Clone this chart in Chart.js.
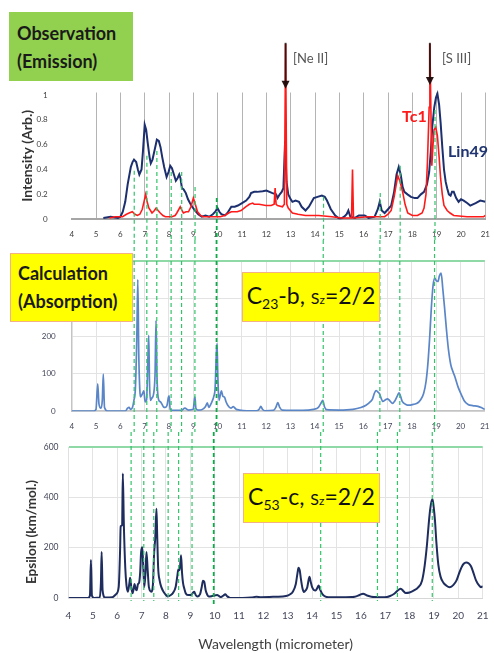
<!DOCTYPE html>
<html><head><meta charset="utf-8">
<script src="https://cdn.jsdelivr.net/npm/chart.js@4.4.0/dist/chart.umd.min.js"></script>
<style>
html,body{margin:0;padding:0;width:494px;height:653px;overflow:hidden;background:#fff;font-family:Lato,"Open Sans",sans-serif;}
canvas{position:absolute;left:0;}
#c1{top:0}
#c2{top:240px}
#c3{top:432px}
.box{position:absolute;box-sizing:border-box;color:#1a1a1a;font-weight:bold;}
.obs{left:9px;top:12px;width:124px;height:69px;background:#92d050;font-size:18px;line-height:28px;padding:7px 0 0 8px;}
.calc{left:10px;top:253px;width:123px;height:69px;background:#ffff00;border:1.5px solid #f4b183;font-size:18px;line-height:28px;padding:5px 0 0 7px;}
.mol{background:#ffff00;border:1.5px solid #f4b183;display:flex;align-items:center;justify-content:center;font-weight:normal;color:#111;white-space:nowrap;}
.mol .t{font-size:23px;line-height:26px;display:inline-block;}
.mol sub{font-size:14px;vertical-align:-5px;line-height:0;}
.mol .s{font-size:16px;}
.mol .z{font-size:12px;}
.lbl{position:absolute;white-space:nowrap;}
.ytitle{position:absolute;width:200px;text-align:center;font-weight:bold;font-size:13.5px;color:#333;transform:rotate(-90deg);line-height:16px;}
</style></head><body>
<canvas id="c1" width="500" height="240"></canvas>
<canvas id="c2" width="500" height="192"></canvas>
<canvas id="c3" width="500" height="221"></canvas>

<div class="box obs">Observation<br>(Emission)</div>
<div class="box calc">Calculation<br>(Absorption)</div>
<div class="box mol" style="left:242px;top:272px;width:138px;height:50px;"><span class="t">C<sub>23</sub>-b,&nbsp;<span class="s">S</span><span class="z">z</span>=2/2</span></div>
<div class="box mol" style="left:243px;top:473px;width:137px;height:50px;"><span class="t">C<sub>53</sub>-c,&nbsp;<span class="s">S</span><span class="z">z</span>=2/2</span></div>
<div class="lbl" style="left:293px;top:52px;font-size:13px;line-height:13px;color:#555;">[Ne II]</div>
<div class="lbl" style="left:442px;top:52px;font-size:13px;line-height:13px;color:#555;">[S III]</div>
<div class="lbl" style="left:402px;top:108px;font-size:16px;line-height:16px;color:#ff1a1a;font-weight:bold;">Tc1</div>
<div class="lbl" style="left:448px;top:143px;font-size:16px;line-height:16px;color:#1f3470;font-weight:bold;">Lin49</div>
<div class="ytitle" style="left:-69px;top:524px;">Epsilon (km/mol.)</div>

<script>
// ---------- data (wavelength [micrometer], value) ----------
const wavelengthTicks = [4,5,6,7,8,9,10,11,12,13,14,15,16,17,18,19,20,21];
const intensityTicks = [0,0.2,0.4,0.6,0.8,1];
const calcTicks = [0,100,200,300,400];
const epsilonTicks = [0,200,400,600];

const lin49 = [[5.3,0.01],[5.6,0.02],[5.9,0.01],[6.0,0.02],[6.1,0.06],[6.2,0.14],[6.3,0.28],[6.43,0.42],[6.5,0.46],[6.56,0.48],[6.65,0.46],[6.72,0.40],[6.78,0.36],[6.87,0.40],[6.93,0.55],[7.0,0.76],[7.06,0.72],[7.12,0.62],[7.2,0.50],[7.25,0.45],[7.32,0.48],[7.4,0.55],[7.5,0.64],[7.58,0.63],[7.65,0.58],[7.72,0.50],[7.8,0.42],[7.9,0.34],[7.98,0.38],[8.05,0.43],[8.12,0.41],[8.2,0.36],[8.28,0.31],[8.35,0.33],[8.42,0.36],[8.47,0.33],[8.53,0.25],[8.6,0.24],[8.69,0.21],[8.78,0.16],[8.86,0.13],[8.95,0.10],[9.07,0.07],[9.2,0.04],[9.34,0.02],[9.5,0.03],[9.65,0.02],[9.8,0.04],[9.9,0.06],[9.99,0.09],[10.07,0.06],[10.15,0.04],[10.3,0.03],[10.4,0.05],[10.56,0.10],[10.7,0.10],[10.83,0.11],[11.0,0.13],[11.17,0.15],[11.3,0.18],[11.37,0.21],[11.5,0.22],[11.62,0.22],[11.85,0.225],[12.0,0.23],[12.25,0.21],[12.4,0.20],[12.46,0.17],[12.55,0.20],[12.63,0.22],[12.7,0.25],[12.77,0.63],[12.83,0.30],[12.9,0.20],[13.0,0.16],[13.07,0.14],[13.2,0.15],[13.34,0.14],[13.45,0.10],[13.61,0.07],[13.75,0.10],[13.95,0.17],[14.1,0.18],[14.28,0.19],[14.4,0.18],[14.49,0.15],[14.65,0.08],[14.83,0.03],[15.03,0.0],[15.2,0.02],[15.3,0.04],[15.37,0.07],[15.45,0.02],[15.64,0.01],[15.8,0.03],[16.04,0.03],[16.2,0.01],[16.45,0.02],[16.58,0.08],[16.66,0.14],[16.74,0.07],[16.86,0.05],[17.0,0.08],[17.13,0.11],[17.25,0.22],[17.35,0.36],[17.44,0.42],[17.52,0.36],[17.6,0.26],[17.67,0.22],[17.8,0.20],[17.94,0.18],[18.1,0.17],[18.21,0.17],[18.35,0.20],[18.48,0.22],[18.6,0.28],[18.69,0.38],[18.76,0.55],[18.82,0.75],[18.9,0.90],[18.97,0.98],[19.03,1.01],[19.1,0.92],[19.16,0.78],[19.23,0.58],[19.3,0.40],[19.37,0.30],[19.43,0.25],[19.5,0.20],[19.57,0.19],[19.63,0.22],[19.7,0.22],[19.8,0.17],[19.9,0.14],[20.0,0.16],[20.11,0.15],[20.25,0.13],[20.38,0.11],[20.6,0.13],[20.79,0.15],[21.0,0.14]];

const tc1 = [[5.55,0.01],[5.8,0.02],[6.09,0.02],[6.25,0.04],[6.36,0.05],[6.49,0.06],[6.6,0.04],[6.7,0.03],[6.8,0.04],[6.9,0.08],[6.97,0.14],[7.04,0.20],[7.1,0.14],[7.17,0.09],[7.3,0.05],[7.4,0.07],[7.47,0.09],[7.55,0.07],[7.64,0.05],[7.75,0.03],[7.85,0.02],[8.12,0.02],[8.25,0.03],[8.32,0.05],[8.46,0.10],[8.53,0.07],[8.59,0.05],[8.7,0.06],[8.8,0.06],[8.9,0.10],[9.0,0.17],[9.08,0.12],[9.17,0.06],[9.3,0.03],[9.41,0.02],[9.88,0.02],[10.1,0.02],[10.29,0.03],[10.45,0.05],[10.56,0.06],[10.8,0.06],[10.96,0.07],[11.15,0.10],[11.3,0.12],[11.44,0.13],[11.5,0.12],[11.7,0.12],[11.98,0.11],[12.2,0.11],[12.32,0.12],[12.36,0.25],[12.4,0.12],[12.46,0.11],[12.66,0.10],[12.74,0.12],[12.79,1.41],[12.84,0.12],[12.9,0.09],[13.07,0.05],[13.3,0.04],[13.61,0.03],[14.15,0.03],[14.69,0.02],[15.1,0.01],[15.5,0.01],[15.54,0.40],[15.58,0.01],[16.18,0.02],[16.86,0.02],[17.0,0.04],[17.13,0.07],[17.25,0.18],[17.4,0.35],[17.5,0.30],[17.6,0.22],[17.7,0.12],[17.81,0.05],[18.0,0.03],[18.21,0.03],[18.4,0.05],[18.48,0.09],[18.56,0.20],[18.62,0.46],[18.69,0.90],[18.72,1.41],[18.76,0.90],[18.8,0.43],[18.85,0.60],[18.89,0.72],[18.96,0.74],[19.03,0.67],[19.1,0.50],[19.16,0.33],[19.23,0.20],[19.3,0.11],[19.43,0.07],[19.55,0.05],[19.7,0.03],[20.25,0.02],[20.93,0.02],[21.0,0.03]];

const c23b = [[4.0,0],[4.9,0],[5.0,5],[5.07,73],[5.12,20],[5.2,8],[5.26,30],[5.3,99],[5.35,10],[5.5,0],[6.2,0],[6.3,8],[6.36,10],[6.42,5],[6.5,10],[6.56,29],[6.62,60],[6.68,200],[6.72,350],[6.76,150],[6.8,60],[6.83,38],[6.9,45],[6.97,54],[7.02,25],[7.08,30],[7.14,150],[7.17,202],[7.2,80],[7.24,29],[7.3,35],[7.37,46],[7.43,100],[7.47,241],[7.51,90],[7.58,30],[7.65,25],[7.72,18],[7.78,11],[7.85,10],[7.92,15],[7.98,37],[8.01,41],[8.05,5],[8.2,2],[8.5,2],[8.66,8],[8.8,3],[9.0,5],[9.04,25],[9.07,38],[9.11,8],[9.2,3],[9.35,4],[9.5,12],[9.58,22],[9.64,10],[9.72,18],[9.77,25],[9.85,40],[9.9,60],[9.95,150],[9.98,180],[10.01,100],[10.06,29],[10.12,45],[10.16,54],[10.22,40],[10.29,37],[10.35,25],[10.42,16],[10.55,8],[10.65,12],[10.75,6],[10.9,3],[11.2,1],[11.6,1],[11.72,6],[11.78,13],[11.85,5],[11.95,1],[12.3,2],[12.4,10],[12.48,23],[12.56,10],[12.66,3],[13.5,2],[13.95,5],[14.15,10],[14.28,24],[14.33,29],[14.4,12],[14.49,4],[15.0,3],[15.57,5],[15.9,10],[16.11,16],[16.3,26],[16.38,33],[16.45,47],[16.52,55],[16.6,51],[16.66,47],[16.73,35],[16.8,26],[16.9,30],[17.0,33],[17.1,27],[17.2,21],[17.3,28],[17.4,41],[17.47,49],[17.53,40],[17.6,26],[17.75,18],[17.87,16],[18.05,18],[18.21,21],[18.35,30],[18.48,47],[18.58,79],[18.66,130],[18.73,197],[18.8,277],[18.87,335],[18.94,354],[19.0,347],[19.07,345],[19.13,360],[19.2,367],[19.27,325],[19.34,277],[19.42,217],[19.5,165],[19.6,123],[19.7,103],[19.77,91],[19.9,64],[20.04,43],[20.15,28],[20.31,18],[20.5,15],[20.72,13],[20.9,8],[21.0,5]];

const c53c = [[4.0,0],[4.8,0],[4.88,10],[4.92,151],[4.96,10],[5.05,0],[5.28,2],[5.33,60],[5.36,183],[5.4,30],[5.5,2],[5.8,3],[5.95,15],[6.06,43],[6.12,200],[6.14,285],[6.2,290],[6.23,495],[6.27,300],[6.33,120],[6.38,50],[6.44,25],[6.5,60],[6.53,81],[6.58,40],[6.63,19],[6.68,40],[6.71,56],[6.76,35],[6.8,31],[6.85,55],[6.9,62],[6.94,100],[6.98,183],[7.03,202],[7.07,120],[7.11,43],[7.16,100],[7.2,183],[7.25,110],[7.3,43],[7.4,25],[7.47,60],[7.51,170],[7.56,240],[7.61,355],[7.64,250],[7.68,120],[7.74,70],[7.81,43],[7.9,25],[8.0,12],[8.08,6],[8.2,12],[8.28,19],[8.4,45],[8.47,90],[8.51,114],[8.56,110],[8.62,170],[8.66,100],[8.7,60],[8.76,35],[8.81,19],[8.9,12],[9.02,12],[9.1,20],[9.16,25],[9.22,12],[9.29,6],[9.4,15],[9.47,45],[9.52,69],[9.57,65],[9.63,31],[9.7,12],[9.76,6],[9.9,8],[10.1,12],[10.2,6],[10.26,4],[10.36,10],[10.43,15],[10.5,8],[10.64,0],[11.5,2],[11.71,5],[11.9,3],[12.5,5],[12.93,8],[13.1,15],[13.2,24],[13.33,56],[13.4,100],[13.44,120],[13.49,110],[13.53,82],[13.6,40],[13.66,24],[13.73,30],[13.8,43],[13.86,75],[13.89,84],[13.94,65],[14.0,43],[14.07,32],[14.14,30],[14.2,38],[14.27,50],[14.32,35],[14.41,17],[14.5,8],[14.68,3],[15.2,3],[15.75,5],[15.95,12],[16.09,17],[16.25,10],[16.43,5],[16.97,3],[17.2,8],[17.37,17],[17.55,33],[17.64,37],[17.74,28],[17.84,20],[18.0,22],[18.18,30],[18.35,42],[18.51,69],[18.62,130],[18.71,209],[18.78,290],[18.84,349],[18.9,385],[18.94,393],[18.99,360],[19.04,310],[19.1,220],[19.18,132],[19.27,85],[19.38,62],[19.5,50],[19.65,43],[19.8,52],[19.92,69],[20.02,95],[20.12,120],[20.22,136],[20.32,141],[20.42,138],[20.52,126],[20.62,100],[20.73,69],[20.85,50],[20.93,43],[21.0,47]];

// green dashed reference lines (wavelength) and where they start in the observation panel (intensity)
const markerWl  = [6.57, 7.09, 7.5, 8.09, 8.52, 9.07, 9.96, 14.35, 16.68, 17.5, 18.93];
const markerTop = [0.39, 0.51, 0.55, 0.38, 0.38, 0.26, 0.17, 0.18, 0.21, 0.43, 0.88];
// emission line arrows: wavelength, tail intensity, tip intensity
const arrowWl = [12.79, 18.72];
const arrowTail = [1.42, 1.42];
const arrowTip = [1.05, 1.08];

const pts = a => a.map(p => ({x: p[0], y: p[1]}));
const FONT = 'Lato, "Open Sans", sans-serif';

const markerPlugin = {
  id: 'markers',
  afterDatasetsDraw(chart, args, opts) {
    const ctx = chart.ctx, xs = chart.scales.x, ys = chart.scales.y, ca = chart.chartArea;
    ctx.save();
    markerWl.forEach((w, i) => {
      const x = xs.getPixelForValue(w);
      let y0, y1;
      const strong = (w > 9.9 && w < 10.1);
      if (opts.mode === 'top') { y0 = ys.getPixelForValue(markerTop[i]); y1 = chart.height; }
      else if (opts.mode === 'mid') { y0 = 0; y1 = chart.height; }
      else { y0 = 0; y1 = ca.bottom + (strong ? 8 : 3); }
      ctx.strokeStyle = strong ? '#10a84a' : '#33c46a';
      ctx.lineWidth = strong ? 1.8 : 1.2;
      ctx.setLineDash([4, 3]);
      ctx.beginPath(); ctx.moveTo(x, y0); ctx.lineTo(x, y1); ctx.stroke();
    });
    ctx.restore();
  }
};

const arrowPlugin = {
  id: 'arrows',
  afterDatasetsDraw(chart, args, opts) {
    if (!opts.on) return;
    const ctx = chart.ctx, xs = chart.scales.x, ys = chart.scales.y;
    ctx.save();
    arrowWl.forEach((w, i) => {
      const x = xs.getPixelForValue(w);
      const yt = ys.getPixelForValue(arrowTail[i]);
      const yp = ys.getPixelForValue(arrowTip[i]);
      ctx.strokeStyle = 'rgba(40,10,10,0.85)';
      ctx.fillStyle = 'rgba(30,10,10,0.95)';
      ctx.lineWidth = 2;
      ctx.beginPath(); ctx.moveTo(x, yt); ctx.lineTo(x, yp - 6); ctx.stroke();
      ctx.beginPath(); ctx.moveTo(x - 4, yp - 8); ctx.lineTo(x + 4, yp - 8); ctx.lineTo(x, yp); ctx.closePath(); ctx.fill();
    });
    ctx.restore();
  }
};

function xScale(opts) {
  return Object.assign({
    type: 'linear', min: 4, max: 21,
    afterBuildTicks: s => { s.ticks = wavelengthTicks.map(v => ({value: v})); },
    ticks: {autoSkip: false, maxRotation: 0, color: '#404040', font: {family: FONT, size: 8}, padding: 10},
    grid: {drawTicks: false}
  }, opts);
}

Chart.defaults.font.family = FONT;

// ---------- top: observation ----------
new Chart(document.getElementById('c1'), {
  type: 'line',
  data: {datasets: [
    {label: 'Tc1', data: pts(tc1), borderColor: '#ff1a1a', borderWidth: 1.6, pointRadius: 0, order: 1, clip: {left: 0, top: false, right: 0, bottom: 0}},
    {label: 'Lin49', data: pts(lin49), borderColor: '#1c2f6e', borderWidth: 2, pointRadius: 0, order: 2, clip: {left: 0, top: false, right: 0, bottom: 0}}
  ]},
  options: {
    responsive: false, animation: false, devicePixelRatio: 1,
    layout: {padding: {top: 92.5, left: 0, right: 10, bottom: 0}},
    plugins: {legend: {display: false}, tooltip: {enabled: false}, markers: {mode: 'top'}, arrows: {on: true}},
    scales: {
      x: xScale({
        afterFit: s => { s.height = 19; },
        grid: {drawTicks: false, color: c => c.tick && c.tick.value === 4 ? 'rgba(0,0,0,0)' : '#b4b4b4', lineWidth: 1},
        border: {display: true, color: '#a6a6a6', width: 2}
      }),
      y: {
        min: 0, max: 1.02,
        afterBuildTicks: s => { s.ticks = intensityTicks.map(v => ({value: v})); },
        afterFit: s => { s.width = 71.7; },
        ticks: {color: '#404040', font: {size: 8}, padding: 16, callback: v => String(Math.round(v * 10) / 10)},
        grid: {display: false}, border: {display: false},
        title: {display: true, text: 'Intensity (Arb.)', color: '#333', font: {size: 14, weight: 'bold'}, padding: {top: 19, bottom: 0}}
      }
    }
  },
  plugins: [markerPlugin, arrowPlugin]
});

// ---------- middle: calculation C23-b ----------
new Chart(document.getElementById('c2'), {
  type: 'line',
  data: {datasets: [
    {label: 'C23-b', data: pts(c23b), borderColor: '#5a86c8', borderWidth: 1.7, pointRadius: 0, cubicInterpolationMode: 'monotone'}
  ]},
  options: {
    responsive: false, animation: false, devicePixelRatio: 1,
    layout: {padding: {top: 17.3, left: 0, right: 10, bottom: 0}},
    plugins: {legend: {display: false}, tooltip: {enabled: false}, markers: {mode: 'mid'}},
    scales: {
      x: xScale({
        afterFit: s => { s.height = 19.3; },
        ticks: {autoSkip: false, maxRotation: 0, color: '#44475a', font: {size: 8}, padding: 10.5},
        grid: {drawTicks: false, color: '#e3e3e3'},
        border: {display: true, color: '#c4c4c4', width: 1.5}
      }),
      y: {
        min: 0, max: 400,
        afterBuildTicks: s => { s.ticks = calcTicks.map(v => ({value: v})); },
        afterFit: s => { s.width = 71.7; },
        ticks: {color: '#44475a', font: {size: 8}, padding: 16},
        grid: {drawTicks: false, color: c => c.tick && c.tick.value === 400 ? '#8fd9a6' : '#e3e3e3', lineWidth: c => c.tick && c.tick.value === 400 ? 2 : 1},
        border: {display: true, color: '#c4c4c4', width: 1.5}
      }
    }
  },
  plugins: [markerPlugin]
});

// ---------- bottom: calculation C53-c ----------
new Chart(document.getElementById('c3'), {
  type: 'line',
  data: {datasets: [
    {label: 'C53-c', data: pts(c53c), borderColor: '#1e2d5e', borderWidth: 2, pointRadius: 0, cubicInterpolationMode: 'monotone'}
  ]},
  options: {
    responsive: false, animation: false, devicePixelRatio: 1,
    layout: {padding: {top: 8.7, left: 0, right: 10, bottom: 0}},
    plugins: {legend: {display: false}, tooltip: {enabled: false}, markers: {mode: 'bottom'}},
    scales: {
      x: xScale({
        afterFit: s => { s.height = 55; },
        ticks: {autoSkip: false, maxRotation: 0, color: '#44475a', font: {size: 10}, padding: 11.5},
        grid: {drawTicks: false, color: '#e3e3e3'},
        border: {display: true, color: '#d6d6d6', width: 1},
        title: {display: true, text: 'Wavelength (micrometer)', color: '#404040', font: {size: 14}, padding: {top: 0, bottom: 0}}
      }),
      y: {
        min: 0, max: 600,
        afterBuildTicks: s => { s.ticks = epsilonTicks.map(v => ({value: v})); },
        afterFit: s => { s.width = 68.5; },
        ticks: {color: '#44475a', font: {size: 8.5}, padding: 10},
        grid: {drawTicks: false, color: c => c.tick && c.tick.value === 600 ? '#8fd9a6' : '#e3e3e3', lineWidth: c => c.tick && c.tick.value === 600 ? 2 : 1},
        border: {display: true, color: '#e0e0e0', width: 1}
      }
    }
  },
  plugins: [markerPlugin]
});
</script>
</body></html>
